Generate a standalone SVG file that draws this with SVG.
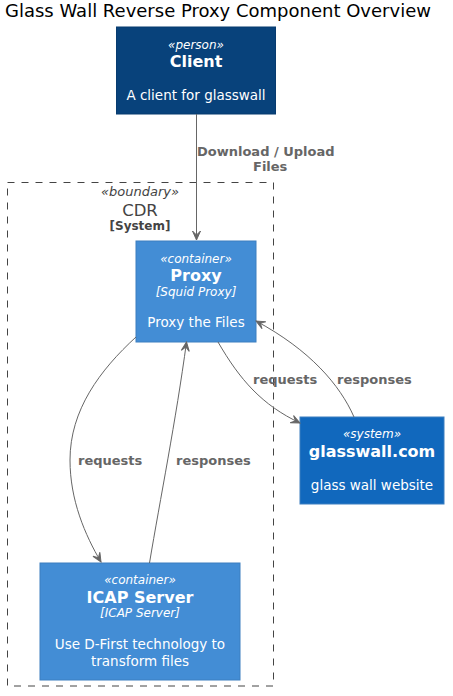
<svg xmlns="http://www.w3.org/2000/svg" width="453" height="696" viewBox="0 0 453 696">
<defs>
<marker id="ah" viewBox="-10 -5 11 10" refX="0" refY="0" markerWidth="11" markerHeight="10" markerUnits="userSpaceOnUse" orient="auto">
<path d="M0,0 L-9,-4 L-5,0 L-9,4 Z" fill="#666666" stroke="#666666" stroke-width="1"/>
</marker>
<style>
text{font-family:"DejaVu Sans",Verdana,sans-serif;}
.title{font-size:18px;fill:#000000;}
.st{font-size:12px;font-style:italic;fill:#FFFFFF;text-anchor:middle;}
.nm{font-size:16px;font-weight:bold;fill:#FFFFFF;text-anchor:middle;}
.tech{font-size:12px;font-style:italic;fill:#FFFFFF;text-anchor:middle;}
.ds{font-size:13.5px;fill:#FFFFFF;text-anchor:middle;}
.lbl{font-size:13px;font-weight:bold;fill:#666666;}
.edge{fill:none;stroke:#666666;stroke-width:1;marker-end:url(#ah);}
.bst{font-size:13px;font-style:italic;fill:#444444;text-anchor:middle;}
.bnm{font-size:16.5px;fill:#444444;text-anchor:middle;}
.bty{font-size:12px;font-weight:bold;fill:#444444;text-anchor:middle;}
</style>
</defs>
<text class="title" x="5" y="17">Glass Wall Reverse Proxy Component Overview</text>

<g id="boundary-cdr">
<rect x="7.5" y="182.5" width="266" height="503.5" fill="none" stroke="#444444" stroke-width="1" stroke-dasharray="7,7"/>
<text class="bst" x="140" y="196">«boundary»</text>
<text class="bnm" x="140" y="216">CDR</text>
<text class="bty" x="140" y="230">[System]</text>
</g>

<g id="node-client">
<rect x="116.5" y="27" width="159" height="87" fill="#08427B" stroke="#073B6F" stroke-width="1"/>
<text class="st" x="196" y="49">«person»</text>
<text class="nm" x="196" y="67">Client</text>
<text class="ds" x="196" y="100">A client for glasswall</text>
</g>

<g id="node-proxy">
<rect x="136" y="241" width="120" height="101" fill="#438DD5" stroke="#3C7FC0" stroke-width="1"/>
<text class="st" x="196" y="263">«container»</text>
<text class="nm" x="196" y="281">Proxy</text>
<text class="tech" x="196" y="296">[Squid Proxy]</text>
<text class="ds" x="196" y="327">Proxy the Files</text>
</g>

<g id="node-glasswall">
<rect x="300" y="417" width="144" height="87" fill="#1168BD" stroke="#3C7FC0" stroke-width="1"/>
<text class="st" x="372" y="438">«system»</text>
<text class="nm" x="372" y="457">glasswall.com</text>
<text class="ds" x="372" y="490">glass wall website</text>
</g>

<g id="node-icap">
<rect x="40" y="563" width="200" height="117" fill="#438DD5" stroke="#3C7FC0" stroke-width="1"/>
<text class="st" x="140" y="584">«container»</text>
<text class="nm" x="140" y="603">ICAP Server</text>
<text class="tech" x="140" y="617">[ICAP Server]</text>
<text class="ds" x="140" y="649">Use D-First technology to</text>
<text class="ds" x="140" y="666">transform files</text>
</g>

<g id="connectors">
<path class="edge" d="M196.5,114 L196.5,240"/>
<text class="lbl" x="197" y="156">Download / Upload</text>
<text class="lbl" x="253" y="171">Files</text>

<path class="edge" d="M136,337 C100,370 70,410 70,460 C70,500 85,535 101,562"/>
<text class="lbl" x="78" y="465">requests</text>

<path class="edge" d="M149.5,563 C160,500 176,420 186.5,342"/>
<text class="lbl" x="176" y="465">responses</text>

<path class="edge" d="M218,342 C240,380 262,405 300,423"/>
<text class="lbl" x="253" y="384">requests</text>

<path class="edge" d="M354,417 C340,385 310,350 256,321"/>
<text class="lbl" x="337" y="384">responses</text>
</g>
</svg>
